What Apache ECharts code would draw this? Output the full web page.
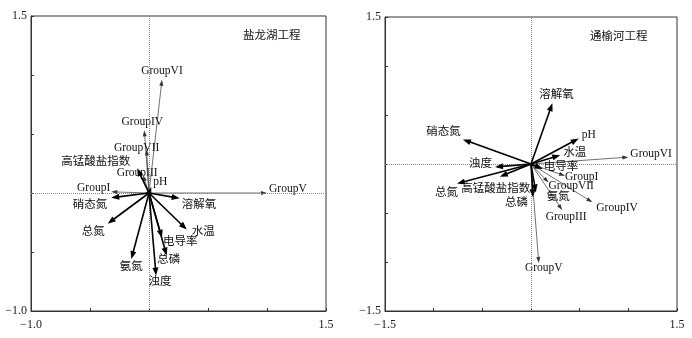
<!DOCTYPE html>
<html>
<head>
<meta charset="utf-8">
<script src="https://cdn.jsdelivr.net/npm/echarts@6/dist/echarts.min.js"></script>
<style>
  html, body { margin: 0; padding: 0; background: #fff; }
  #main { width: 692px; height: 338px; }
</style>
</head>
<body>
<div id="main"></div>
<script>
// 盐龙湖工程 (left panel)
var leftEnvNames = ['pH', '溶解氧', '水温', '电导率', '总磷', '浊度', '氨氮', '总氮', '硝态氮', '高锰酸盐指数'];
var leftEnvX = [0.02, 0.26, 0.32, 0.11, 0.15, 0.06, -0.15, -0.35, -0.32, -0.10];
var leftEnvY = [0.05, -0.045, -0.31, -0.38, -0.53, -0.70, -0.56, -0.26, -0.04, 0.21];
var leftGroupNames = ['GroupI', 'GroupIII', 'GroupIV', 'GroupV', 'GroupVI', 'GroupVII'];
var leftGroupX = [-0.32, -0.05, -0.04, 1.00, 0.11, -0.02];
var leftGroupY = [0.01, 0.15, 0.53, 0.00, 0.96, 0.37];

// 通榆河工程 (right panel)
var rightEnvNames = ['pH', '溶解氧', '水温', '电导率', '总磷', '浊度', '氨氮', '总氮', '硝态氮', '高锰酸盐指数'];
var rightEnvX = [0.49, 0.22, 0.30, 0.12, 0.02, -0.37, 0.05, -0.76, -0.70, -0.32];
var rightEnvY = [0.26, 0.62, 0.09, -0.05, -0.34, -0.03, -0.29, -0.20, 0.25, -0.13];
var rightGroupNames = ['GroupI', 'GroupIII', 'GroupIV', 'GroupV', 'GroupVI', 'GroupVII'];
var rightGroupX = [0.35, 0.32, 0.63, 0.08, 1.00, 0.18];
var rightGroupY = [-0.12, -0.47, -0.39, -1.01, 0.07, -0.19];

// 坐标轴范围
var leftRange = [-1.0, 1.5];
var rightRange = [-1.5, 1.5];

// 标签相对箭头位置 [dx, dy, align]
var leftLabelPos = {
  'pH': [2, -5, 'left'], '溶解氧': [2, 7, 'left'], '水温': [5, 2, 'left'],
  '电导率': [1, 4, 'left'], '总磷': [2, 4, 'center'], '浊度': [4, 6, 'center'],
  '氨氮': [0, 8, 'center'], '总氮': [-3, 8, 'right'], '硝态氮': [-4, 7, 'right'],
  '高锰酸盐指数': [-7, -6, 'right'],
  'GroupI': [-1, -4, 'right'], 'GroupIII': [-6, -2, 'center'], 'GroupIV': [-2, -8, 'center'],
  'GroupV': [2, -4, 'left'], 'GroupVI': [0, -9, 'center'], 'GroupVII': [-10, -1, 'center']
};
var rightLabelPos = {
  'pH': [3, -4, 'left'], '溶解氧': [4, -8, 'center'], '水温': [3, -2, 'left'],
  '电导率': [1, -2, 'left'], '总磷': [-5, 6, 'right'], '浊度': [-3, -3, 'right'],
  '氨氮': [11, 5, 'left'], '总氮': [1, 9, 'right'], '硝态氮': [-2, -8, 'right'],
  '高锰酸盐指数': [-4, 12, 'center'],
  'GroupI': [0, 1, 'left'], 'GroupIII': [4, 7, 'center'], 'GroupIV': [4, 6, 'left'],
  'GroupV': [5, 5, 'center'], 'GroupVI': [2, -3, 'left'], 'GroupVII': [0, 3, 'left']
};

var FONT = '11.5px "Liberation Serif", "Noto Sans CJK SC", serif';

function fmt(v) {
  return (v < 0 ? '\u2212' : '') + Math.abs(v).toFixed(1);
}

function makeAxis(grid, range, isX) {
  return {
    type: 'value',
    gridIndex: grid,
    min: range[0],
    max: range[1],
    interval: 0.5,
    position: isX ? 'bottom' : 'left',
    axisLine: { show: true, onZero: false, lineStyle: { color: '#333', width: 1 } },
    axisTick: { show: true, inside: true, length: 3, lineStyle: { color: '#333' } },
    splitLine: { show: false },
    axisLabel: {
      show: true,
      color: '#222',
      fontFamily: '"Liberation Serif", serif',
      fontSize: 12,
      margin: isX ? 8 : 4,
      showMinLabel: true,
      showMaxLabel: true,
      formatter: function (v) {
        if (Math.abs(v - range[0]) < 1e-6 || Math.abs(v - range[1]) < 1e-6) return fmt(v);
        return '';
      }
    }
  };
}

// 箭头系列
function arrowSeries(grid, names, xs, ys, isEnv, labelPos) {
  return {
    type: 'custom',
    xAxisIndex: grid,
    yAxisIndex: grid,
    silent: true,
    z: isEnv ? 5 : 3,
    data: xs.map(function (v, i) { return [v, ys[i]]; }),
    renderItem: function (params, api) {
      var i = params.dataIndex;
      var o = api.coord([0, 0]);
      var t = api.coord([api.value(0), api.value(1)]);
      var a = Math.atan2(t[1] - o[1], t[0] - o[0]);
      var L = isEnv ? 8 : 6;
      var W = isEnv ? 3 : 2;
      var color = isEnv ? '#000' : '#333';
      var bx = t[0] - L * Math.cos(a), by = t[1] - L * Math.sin(a);
      var px = -Math.sin(a) * W, py = Math.cos(a) * W;
      var lp = labelPos[names[i]] || [0, 0, 'left'];
      return {
        type: 'group',
        children: [
          {
            type: 'line',
            shape: { x1: o[0], y1: o[1], x2: bx + Math.cos(a) * 1, y2: by + Math.sin(a) * 1 },
            style: { stroke: color, lineWidth: isEnv ? 1.6 : 0.7 }
          },
          {
            type: 'polygon',
            shape: { points: [[t[0], t[1]], [bx + px, by + py], [bx - px, by - py]] },
            style: { fill: color }
          },
          {
            type: 'text',
            style: {
              text: names[i],
              x: t[0] + lp[0],
              y: t[1] + lp[1],
              align: lp[2],
              verticalAlign: 'middle',
              font: FONT,
              fill: '#111'
            }
          }
        ]
      };
    }
  };
}

function zeroLines(grid) {
  return {
    type: 'scatter',
    xAxisIndex: grid,
    yAxisIndex: grid,
    data: [],
    silent: true,
    markLine: {
      silent: true,
      symbol: 'none',
      label: { show: false },
      lineStyle: { type: 'dotted', color: '#888', width: 1 },
      data: [{ xAxis: 0 }, { yAxis: 0 }],
      animation: false
    }
  };
}

var titleStyle = { fontSize: 11.5, fontWeight: 'normal', color: '#111', fontFamily: '"Noto Sans CJK SC", serif' };

var chart = echarts.init(document.getElementById('main'));
var option = {
  animation: false,
  backgroundColor: '#fff',
  grid: [
    { left: 31, top: 16, width: 295, height: 295, show: true, borderColor: '#333', borderWidth: 1, backgroundColor: 'transparent' },
    { left: 385, top: 17, width: 292, height: 294, show: true, borderColor: '#333', borderWidth: 1, backgroundColor: 'transparent' }
  ],
  title: [
    { text: '盐龙湖工程', left: 243, top: 29, padding: 0, textStyle: titleStyle },
    { text: '通榆河工程', left: 590, top: 30, padding: 0, textStyle: titleStyle }
  ],
  xAxis: [makeAxis(0, leftRange, true), makeAxis(1, rightRange, true)],
  yAxis: [makeAxis(0, leftRange, false), makeAxis(1, rightRange, false)],
  series: [
    zeroLines(0),
    zeroLines(1),
    arrowSeries(0, leftGroupNames, leftGroupX, leftGroupY, false, leftLabelPos),
    arrowSeries(0, leftEnvNames, leftEnvX, leftEnvY, true, leftLabelPos),
    arrowSeries(1, rightGroupNames, rightGroupX, rightGroupY, false, rightLabelPos),
    arrowSeries(1, rightEnvNames, rightEnvX, rightEnvY, true, rightLabelPos)
  ]
};
chart.setOption(option);
</script>
</body>
</html>
